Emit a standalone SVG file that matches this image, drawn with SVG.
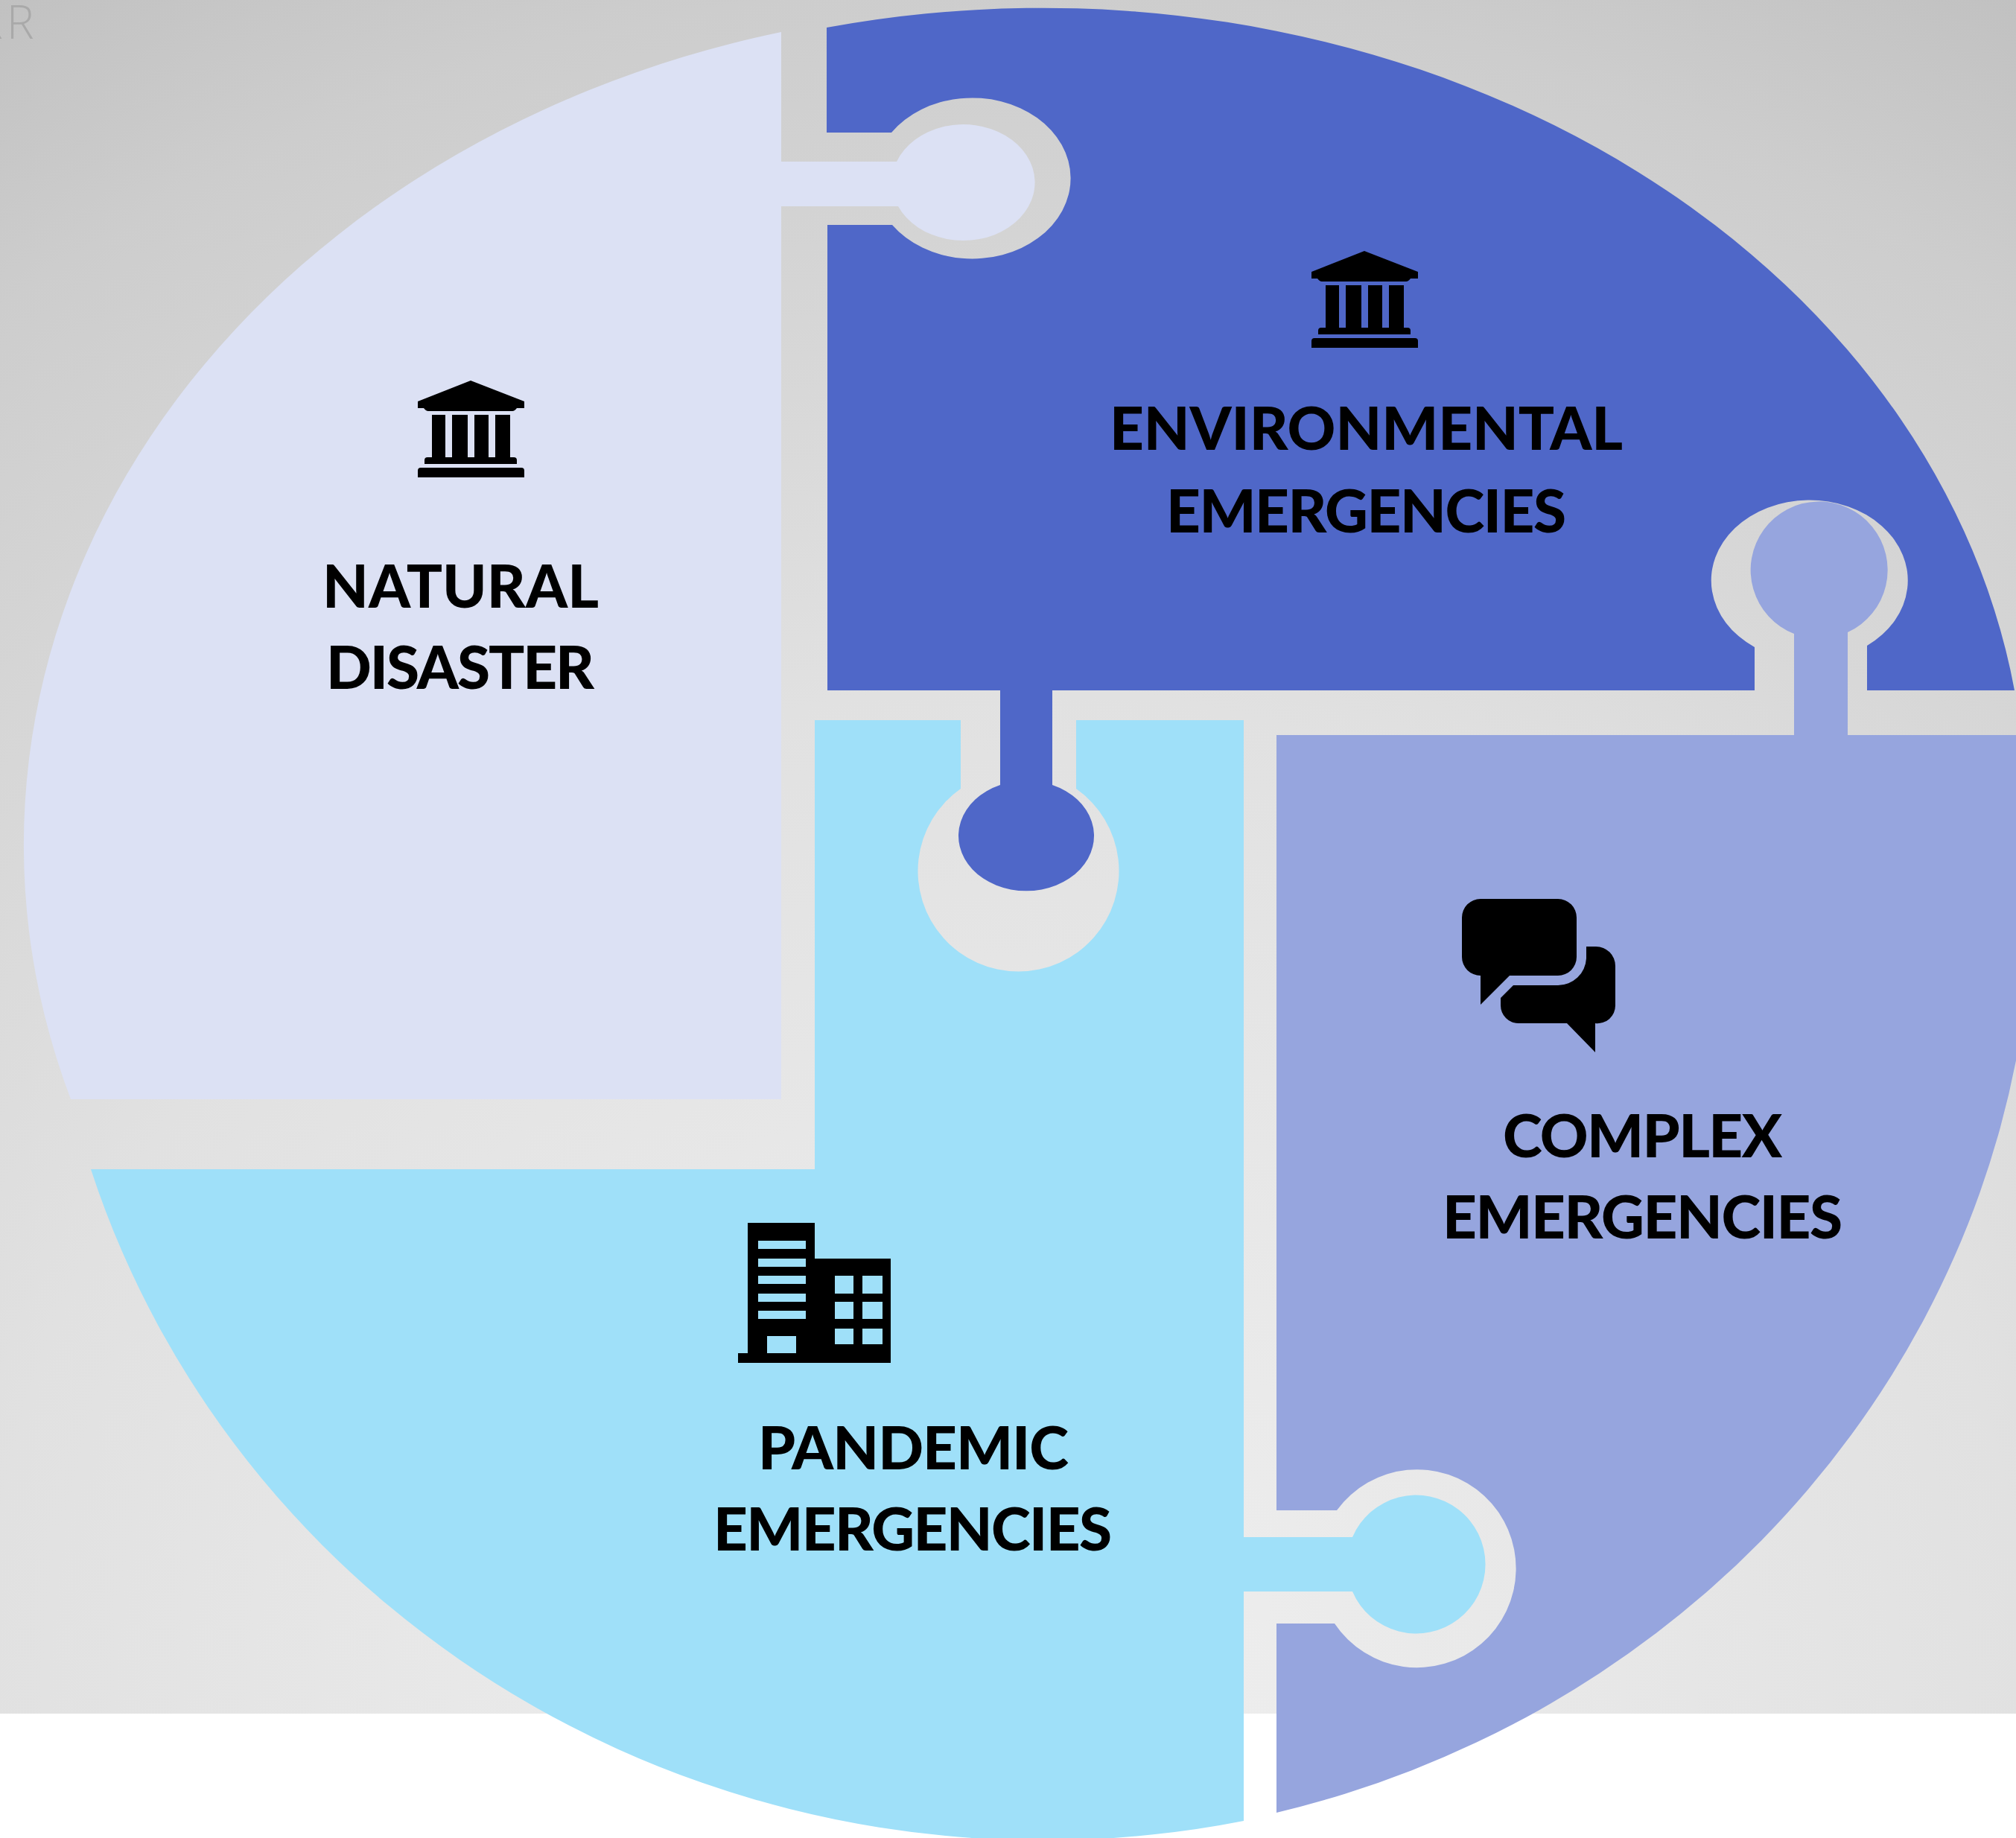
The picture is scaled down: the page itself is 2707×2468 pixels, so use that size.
<svg xmlns="http://www.w3.org/2000/svg" width="2707" height="2468" viewBox="0 0 2707 2468">
<style>
.lbl{font-family:"Lato","Liberation Sans",sans-serif;font-weight:900;font-size:80px;fill:#000}
.ico{fill:#000}
</style>
<defs>
<radialGradient id="bg" gradientUnits="userSpaceOnUse" cx="1350" cy="2300" r="2700">
<stop offset="0" stop-color="#f0f0f0"/><stop offset="0.41" stop-color="#e4e4e4"/><stop offset="0.51" stop-color="#e1e1e1"/><stop offset="0.63" stop-color="#dadada"/><stop offset="0.86" stop-color="#cdcdcd"/><stop offset="1" stop-color="#c0c0c0"/>
</radialGradient>
<g id="bank">
<path d="M632 511L704 539V548H694Q691 552 688 552H575Q572 552 569 548H561V539Z"/>
<rect x="580" y="557" width="18" height="57"/><rect x="607" y="557" width="21" height="57"/><rect x="637" y="557" width="19" height="57"/><rect x="665" y="557" width="20" height="57"/>
<path d="M574 614H690Q694 614 694 618V623H570V618Q570 614 574 614Z"/>
<path d="M565 628H700Q704 628 704 632V641H561V632Q561 628 565 628Z"/>
</g>
</defs>
<rect id="background" x="0" y="0" width="2707" height="2301" fill="url(#bg)"/>
<text id="corner-mark" x="-33" y="52" font-family="'Open Sans','Liberation Sans',sans-serif" font-weight="300" font-size="62" letter-spacing="5" fill="#a9a9a9">RR</text>
<g id="natural-disaster">
<path fill="#dce1f4" d="M1049 43V217H1204A96 78 0 1 1 1206 277H1049V1476H95A1340 1125 0 0 1 1049 43Z"/>
<use href="#bank" class="ico"/>
<text class="lbl" x="433" y="816" textLength="371">NATURAL</text>
<text class="lbl" x="438" y="925" textLength="360">DISASTER</text>
</g>
<g id="environmental-emergencies">
<path fill="#4f67c8" d="M1110 37A1320 1078 0 0 1 2705 927H2507V867A132 108 0 1 0 2356 869V927H1413V1054A91 74 0 1 1 1343 1054V927H1111V302H1198A132 108 0 1 0 1197 178H1110Z"/>
<use href="#bank" class="ico" x="1200" y="-174"/>
<text class="lbl" x="1490" y="604" textLength="689">ENVIRONMENTAL</text>
<text class="lbl" x="1566" y="715" textLength="537">EMERGENCIES</text>
</g>
<g id="pandemic-emergencies">
<path fill="#9fe0f9" d="M1094 967H1290V1059A135 135 0 1 0 1445 1059V967H1670V2064H1816A93 93 0 1 1 1816 2137H1670V2445A1340 1285 0 0 1 122 1570H1094Z"/>
<path class="ico" fill-rule="evenodd" d="M1004 1642H1094V1690H1196V1830H991V1817H1004ZM1018 1666V1677H1082V1666ZM1018 1690V1701H1082V1690ZM1018 1713V1724H1082V1713ZM1018 1737V1748H1082V1737ZM1018 1760V1771H1082V1760ZM1030 1794V1817H1069V1794ZM1121 1713V1737H1146V1713ZM1158 1713V1737H1185V1713ZM1121 1748V1771H1146V1748ZM1158 1748V1771H1185V1748ZM1121 1784V1805H1146V1784ZM1158 1784V1805H1185V1784Z"/>
<text class="lbl" x="1018" y="1973" textLength="417">PANDEMIC</text>
<text class="lbl" x="958" y="2082" textLength="535">EMERGENCIES</text>
</g>
<g id="complex-emergencies">
<path fill="#96a5de" d="M1714 987H2409V851A92 92 0 1 1 2481 849V987H2707V1424A1340 1285 0 0 1 1714 2434V2180H1792A133 133 0 1 0 1795 2028H1714Z"/>
<path class="ico" d="M1988 1207H2092A25 25 0 0 1 2117 1232V1285A25 25 0 0 1 2092 1310H2027L1988 1349V1310A25 25 0 0 1 1963 1285V1232A25 25 0 0 1 1988 1207Z"/>
<path class="ico" d="M2130 1271H2143A26 26 0 0 1 2169 1297V1350A24 24 0 0 1 2142 1374V1413L2104 1374H2039A24 24 0 0 1 2015 1350V1340L2032 1323H2092A38 38 0 0 0 2130 1287Z"/>
<text class="lbl" x="2018" y="1554" textLength="375">COMPLEX</text>
<text class="lbl" x="1937" y="1663" textLength="537">EMERGENCIES</text>
</g>
</svg>
